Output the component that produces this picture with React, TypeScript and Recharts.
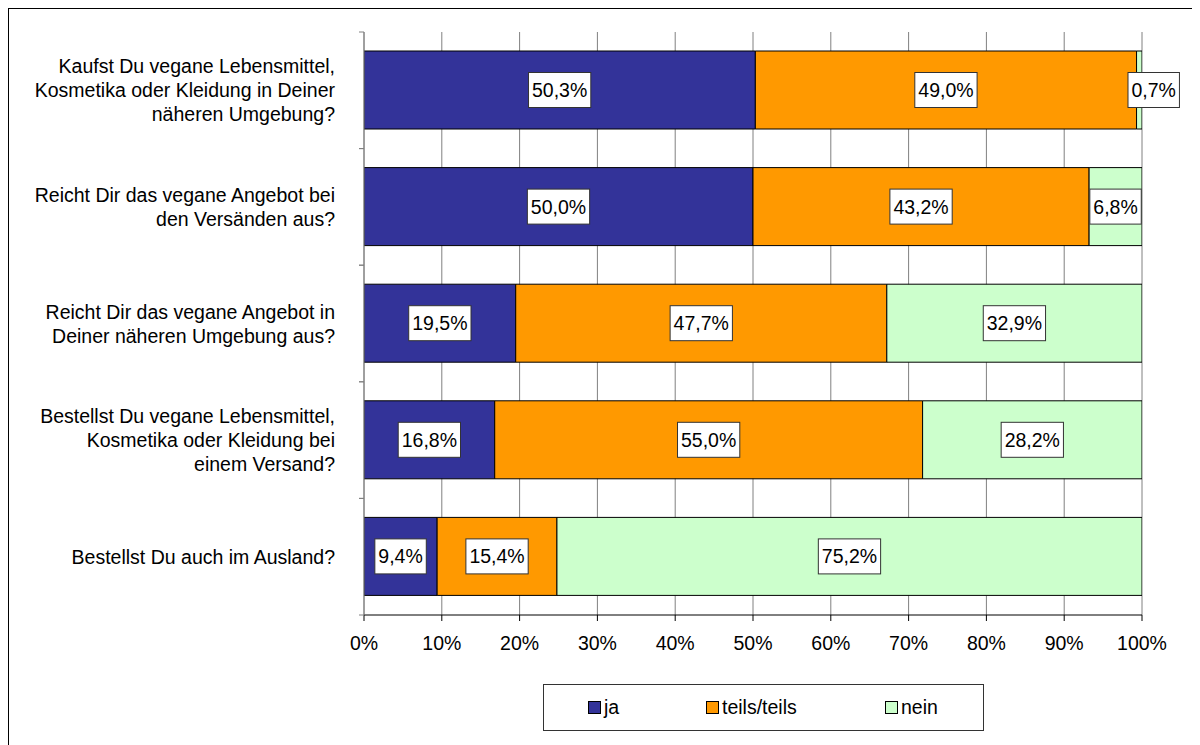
import { BarChart, Bar, XAxis, YAxis, CartesianGrid, Legend, LabelList } from 'recharts'

const QUESTIONS = [
  'Kaufst Du vegane Lebensmittel,\nKosmetika oder Kleidung in Deiner\nnäheren Umgebung?',
  'Reicht Dir das vegane Angebot bei\nden Versänden aus?',
  'Reicht Dir das vegane Angebot in\nDeiner näheren Umgebung aus?',
  'Bestellst Du vegane Lebensmittel,\nKosmetika oder Kleidung bei\neinem Versand?',
  'Bestellst Du auch im Ausland?',
]
const JA = [50.3, 50.0, 19.5, 16.8, 9.4]
const TEILS = [49.0, 43.2, 47.7, 55.0, 15.4]
const NEIN = [0.7, 6.8, 32.9, 28.2, 75.2]
const X_TICKS = [0, 10, 20, 30, 40, 50, 60, 70, 80, 90, 100]

const SERIES = [
  { key: 'ja', label: 'ja', color: '#333399' },
  { key: 'teils', label: 'teils/teils', color: '#FF9900' },
  { key: 'nein', label: 'nein', color: '#CCFFCC' },
]

const data = QUESTIONS.map((name, i) => ({ name, ja: JA[i], teils: TEILS[i], nein: NEIN[i] }))

const FONT = '"Liberation Sans", Arial, sans-serif'
const FONT_SIZE = 19.5
const CHART_W = 1190
const CHART_H = 736
const MARGIN = { top: 23, right: 57, left: 0, bottom: 90 }
const YAXIS_W = 355
const XAXIS_H = 40
const Y_TICK_GAP = 29
const BAND = (CHART_H - MARGIN.top - MARGIN.bottom - XAXIS_H) / QUESTIONS.length
// left offset of each legend entry inside the legend box
const LEGEND_OFFSETS = [45, 163, 342]

const fmt = (v: number) => v.toFixed(1).replace('.', ',') + '%'

// rough Arial advance widths, enough to size the label boxes
const charWidth = (c: string) => (c === ',' ? 0.278 : c === '%' ? 0.889 : 0.556)
const textWidth = (s: string) => s.split('').reduce((w, c) => w + charWidth(c), 0) * FONT_SIZE

function CategoryTick(props: any) {
  const { x, y, payload } = props
  const lines = String(payload.value).split('\n')
  const lineH = 24
  const startY = y - ((lines.length - 1) * lineH) / 2
  const axisX = x + Y_TICK_GAP
  return (
    <g>
      <line x1={axisX - 5} x2={axisX} y1={y - BAND / 2} y2={y - BAND / 2} stroke="#808080" />
      <line x1={axisX - 5} x2={axisX} y1={y + BAND / 2} y2={y + BAND / 2} stroke="#808080" />
      <text x={x} y={startY} textAnchor="end" fontSize={FONT_SIZE} fill="#000" fontFamily={FONT}>
        {lines.map((l, i) => (
          <tspan key={i} x={x} y={startY + i * lineH} dy="0.36em">
            {l}
          </tspan>
        ))}
      </text>
    </g>
  )
}

function ValueLabel(props: any) {
  const { x, y, width, height, value } = props
  const text = fmt(Number(value))
  const boxW = textWidth(text) + 7
  const boxH = 35
  // very thin segments get their label nudged off to the right
  const cx = width < 20 ? x + width - 14 + boxW / 2 : x + width / 2
  const cy = y + height / 2
  return (
    <g>
      <rect x={cx - boxW / 2} y={cy - boxH / 2} width={boxW} height={boxH} fill="#fff" stroke="#333" strokeWidth={1} />
      <text x={cx} y={cy} dy="0.36em" textAnchor="middle" fontSize={FONT_SIZE} fill="#000" fontFamily={FONT}>
        {text}
      </text>
    </g>
  )
}

function LegendBox() {
  return (
    <div
      style={{
        position: 'relative',
        width: 441,
        height: 47,
        boxSizing: 'border-box',
        border: '1px solid #333',
        background: '#fff',
        fontFamily: FONT,
        fontSize: FONT_SIZE,
        color: '#000',
      }}
    >
      {SERIES.map((s, i) => (
        <div
          key={s.key}
          style={{
            position: 'absolute',
            left: LEGEND_OFFSETS[i] - 1,
            top: 0,
            height: 45,
            display: 'flex',
            alignItems: 'center',
          }}
        >
          <span
            style={{
              width: 11,
              height: 11,
              background: s.color,
              border: '1px solid #000',
              marginRight: 3,
              display: 'inline-block',
            }}
          />
          <span>{s.label}</span>
        </div>
      ))}
    </div>
  )
}

export default function App() {
  return (
    <div style={{ width: 1200, height: 745, border: '1px solid #000', background: '#fff', fontFamily: FONT }}>
      <BarChart width={CHART_W} height={CHART_H} data={data} layout="vertical" margin={MARGIN}>
        <CartesianGrid horizontal={false} stroke="#808080" strokeWidth={1} />
        <XAxis
          type="number"
          domain={[0, 100]}
          ticks={X_TICKS}
          allowDataOverflow
          tickFormatter={(v) => `${v}%`}
          height={XAXIS_H}
          tick={{ fontSize: FONT_SIZE, fill: '#000', fontFamily: FONT }}
          tickSize={6}
          tickMargin={15}
          tickLine={{ stroke: '#000' }}
          axisLine={{ stroke: '#000' }}
          interval={0}
        />
        <XAxis
          xAxisId="top"
          orientation="top"
          type="number"
          domain={[0, 100]}
          height={0}
          tick={false}
          tickLine={false}
          axisLine={{ stroke: '#808080' }}
        />
        <YAxis
          type="category"
          dataKey="name"
          width={YAXIS_W}
          tickSize={0}
          tickMargin={Y_TICK_GAP}
          tickLine={false}
          axisLine={{ stroke: '#808080' }}
          tick={<CategoryTick />}
          interval={0}
        />
        <Legend
          layout="horizontal"
          verticalAlign="middle"
          align="center"
          content={<LegendBox />}
          wrapperStyle={{ left: 534, top: 675, width: 441 }}
        />
        {SERIES.map((s) => (
          <Bar
            key={s.key}
            dataKey={s.key}
            stackId="a"
            fill={s.color}
            stroke="#000"
            strokeWidth={1}
            barSize={78}
            isAnimationActive={false}
          >
            <LabelList dataKey={s.key} content={<ValueLabel />} />
          </Bar>
        ))}
      </BarChart>
    </div>
  )
}
